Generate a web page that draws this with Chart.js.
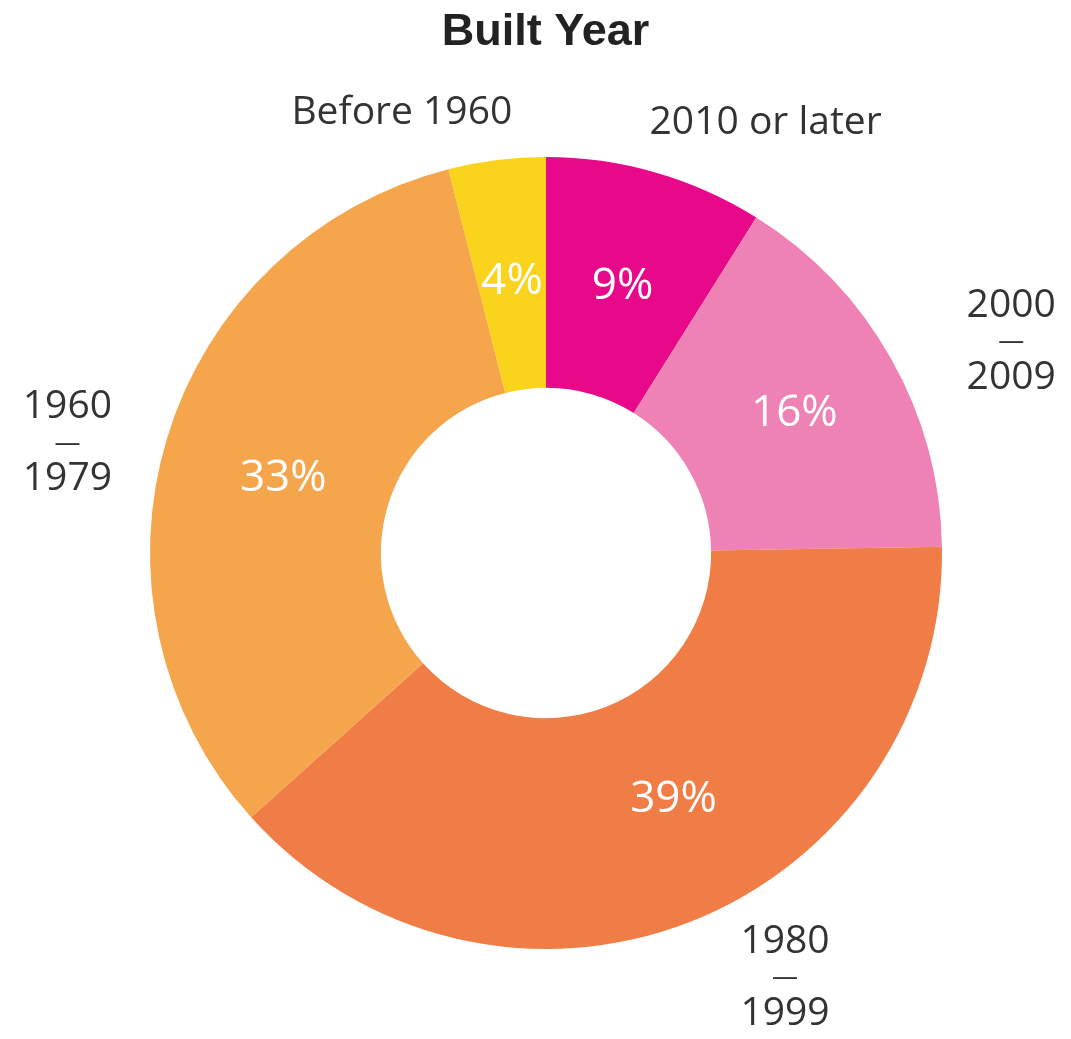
<!DOCTYPE html>
<html>
<head>
<meta charset="utf-8">
<script src="https://cdn.jsdelivr.net/npm/chart.js@4/dist/chart.umd.min.js"></script>
<style>
html,body{margin:0;padding:0;background:#fff;}
#wrap{width:1071px;height:1039px;position:relative;}
</style>
</head>
<body>
<div id="wrap"><canvas id="c" width="1071" height="1039"></canvas></div>
<script>
const title = "Built Year";
const categories = ["2010 or later", "2000\n—\n2009", "1980\n—\n1999", "1960\n—\n1979", "Before 1960"];
const values = [9, 16, 39, 33, 4];
const valueLabels = ["9%", "16%", "39%", "33%", "4%"];
const colors = ["#E8098A", "#EE82B4", "#F07D45", "#F5A54C", "#F9D31C"];

// label placement styling (angle nudge in degrees, radius as fraction of outer radius)
const innerNudge = [0, 0, -6, -1, 0];
const innerRadius = [0.70, 0.72, 0.70, 0.69, 0.69];
const outerNudge = [11, 5, -8, -4, -11];
const outerRadius = [1.22, 1.29, 1.23, 1.24, 1.17];

const labelPlugin = {
  id: 'labels',
  afterDatasetsDraw(chart) {
    const ctx = chart.ctx;
    const meta = chart.getDatasetMeta(0);
    ctx.save();
    // title
    ctx.fillStyle = '#222';
    ctx.font = 'bold 45px "Liberation Sans", Arial, sans-serif';
    ctx.textAlign = 'center';
    ctx.textBaseline = 'middle';
    ctx.fillText(title, chart.width / 2 + 10, 33);
    meta.data.forEach((arc, i) => {
      const p = arc.getProps(['x', 'y', 'startAngle', 'endAngle', 'outerRadius'], true);
      const mid = (p.startAngle + p.endAngle) / 2;
      // inner value label
      let a = mid + innerNudge[i] * Math.PI / 180;
      let r = p.outerRadius * innerRadius[i];
      ctx.fillStyle = '#fff';
      ctx.font = '44px "Open Sans", sans-serif';
      ctx.fillText(valueLabels[i], p.x + Math.cos(a) * r, p.y + Math.sin(a) * r);
      // outer category label
      a = mid + outerNudge[i] * Math.PI / 180;
      r = p.outerRadius * outerRadius[i];
      const cx = p.x + Math.cos(a) * r, cy = p.y + Math.sin(a) * r;
      const lines = categories[i].split('\n');
      const lh = 36;
      ctx.fillStyle = '#333';
      lines.forEach((ln, k) => {
        ctx.font = (ln === '—' ? '26px' : '39px') + ' "Open Sans", sans-serif';
        ctx.fillText(ln, cx, cy + (k - (lines.length - 1) / 2) * lh);
      });
    });
    ctx.restore();
  }
};

new Chart(document.getElementById('c'), {
  type: 'doughnut',
  data: {
    labels: categories,
    datasets: [{
      data: values,
      backgroundColor: colors,
      borderWidth: 0
    }]
  },
  options: {
    responsive: false,
    animation: false,
    cutout: '41.7%',
    layout: { padding: { left: 150, right: 129, top: 157, bottom: 90 } },
    plugins: { legend: { display: false }, tooltip: { enabled: false }, title: { display: false } }
  },
  plugins: [labelPlugin]
});
</script>
</body>
</html>
